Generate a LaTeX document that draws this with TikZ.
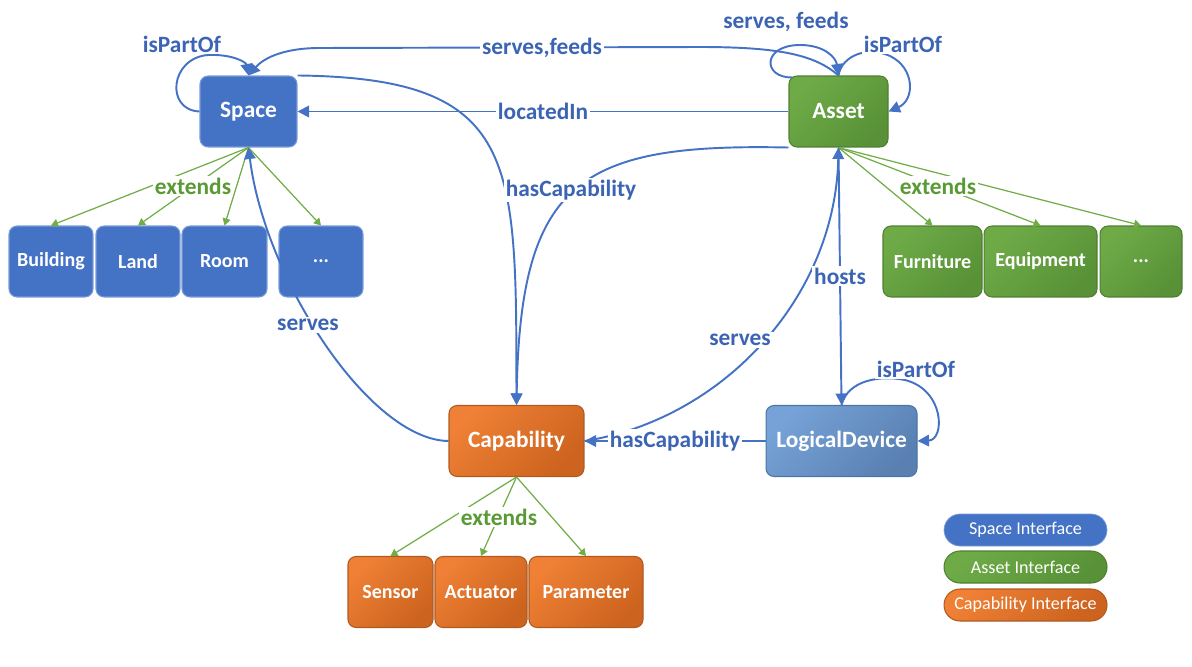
\documentclass[tikz,border=0pt]{standalone}
\usepackage{fontspec}
\setmainfont{Carlito}
\usetikzlibrary{arrows.meta}
\definecolor{spblue}{HTML}{4472C4}
\definecolor{spline}{HTML}{7A9BD8}
\definecolor{asgreenA}{HTML}{6EAB47}
\definecolor{asgreenB}{HTML}{589137}
\definecolor{asline}{HTML}{507F32}
\definecolor{caporangeA}{HTML}{EF8035}
\definecolor{caporangeB}{HTML}{CC631E}
\definecolor{capline}{HTML}{B05A22}
\definecolor{ldblueA}{HTML}{76A2D7}
\definecolor{ldblueB}{HTML}{5A80B2}
\definecolor{ldline}{HTML}{4A76A6}
\definecolor{relblue}{HTML}{4472C4}
\definecolor{lblblue}{HTML}{3C64B4}
\definecolor{extgreen}{HTML}{70AD47}
\definecolor{lblgreen}{HTML}{5A9A35}

\begin{document}
\begin{tikzpicture}
[x=0.02cm,y=-0.02cm,%
  box/.style={shape=rectangle,rounded corners=0.16cm,inner sep=0pt,minimum height=1.42cm,text=white,font=\bfseries\fontsize{13.3}{15}\selectfont},%
  sub/.style={box,font=\bfseries\fontsize{11.4}{13}\selectfont},%
  spacebox/.style={fill=spblue,draw=spline,line width=0.6pt},%
  assetbox/.style={top color=asgreenA,bottom color=asgreenB,shading angle=45,draw=asline,line width=0.6pt},%
  capbox/.style={top color=caporangeA,bottom color=caporangeB,shading angle=45,draw=capline,line width=0.6pt},%
  devbox/.style={top color=ldblueA,bottom color=ldblueB,shading angle=45,draw=ldline,line width=0.6pt},%
  rel/.style={draw=relblue,line width=1.1pt,-{Triangle[length=2.3mm,width=2.3mm]}},%
  ext/.style={draw=extgreen,line width=0.7pt,-{Triangle[length=1.4mm,width=1.6mm]}},%
  lbl/.style={fill=white,inner sep=1pt,text=lblblue,font=\bfseries\fontsize{13.3}{15}\selectfont},%
  extlbl/.style={lbl,text=lblgreen},%
  key/.style={rounded corners=0.32cm,minimum width=3.26cm,minimum height=0.64cm,inner sep=0pt,text=white,font=\fontsize{10.3}{12}\selectfont}]
\useasboundingbox (0,0) rectangle (1192,666);
\node[box,spacebox,minimum width=1.94cm] (sp) at (248.5,111.5) {Space};
\node[box,assetbox,minimum width=1.98cm] (as) at (838.5,111.5) {Asset};
\node[box,capbox,minimum width=2.70cm] (cap) at (516.5,441) {Capability};
\node[box,devbox,minimum width=3.02cm] (ld) at (841.5,441) {LogicalDevice};
\node[sub,spacebox,minimum width=1.68cm] (bld) at (51,261.5) {Building};
\node[sub,spacebox,minimum width=1.68cm] (land) at (138,261.5) {Land};
\node[sub,spacebox,minimum width=1.70cm] (room) at (224.5,261.5) {Room};
\node[sub,spacebox,minimum width=1.68cm] (spmore) at (321,261.5) {...};
\node[sub,assetbox,minimum width=1.98cm] (furn) at (932.5,261.5) {Furniture};
\node[sub,assetbox,minimum width=2.26cm] (equip) at (1040.5,261.5) {Equipment};
\node[sub,assetbox,minimum width=1.64cm] (asmore) at (1141,261.5) {...};
\node[sub,capbox,minimum width=1.70cm] (sens) at (390.5,592) {Sensor};
\node[sub,capbox,minimum width=1.84cm] (act) at (481,592) {Actuator};
\node[sub,capbox,minimum width=2.28cm] (par) at (586,592) {Parameter};
\node[key,fill=spblue,draw=spline] (keysp) at (1025.5,530) {Space Interface};
\node[key,assetbox] (keyas) at (1025.5,567) {Asset Interface};
\node[key,capbox] (keycap) at (1025.5,605) {Capability Interface};
\draw[ext] (sp.south) -- (bld.north);
\draw[ext] (sp.south) -- (land.north);
\draw[ext] (sp.south) -- (room.north);
\draw[ext] (sp.south) -- (spmore.north);
\draw[ext] (as.south) -- (furn.north);
\draw[ext] (as.south) -- (equip.north);
\draw[ext] (as.south) -- (asmore.north);
\draw[ext] (cap.south) -- (sens.north);
\draw[ext] (cap.south) -- (act.north);
\draw[ext] (cap.south) -- (par.north);
\node[extlbl] (lspext) at (193,186) {extends};
\node[extlbl] (lasext) at (938,186) {extends};
\node[extlbl] (lcapext) at (499,517) {extends};
\draw[rel] (sp.west) .. controls (165,110) and (170,58) .. (208,55) .. controls (232,54) and (246,62) .. (sp.north);
\draw[rel] (as.north) .. controls (815,55) and (780,47) .. (700,47) -- (320,48) .. controls (280,48) and (262,60) .. (sp.north);
\draw[rel] ([shift={(4,2)}]as.north west) .. controls (762,78) and (762,45) .. (800,45) .. controls (825,45) and (836,58) .. (as.north);
\draw[rel] (as.north) .. controls (842,55) and (868,46) .. (890,56) .. controls (915,68) and (915,100) .. (as.east);
\draw[rel] (as.west) -- node[lbl] (lloc) {locatedIn} (sp.east);
\draw[rel] (sp.north east) .. controls (520,78) and (516,160) .. (cap.north);
\draw[rel] (as.south west) .. controls (580,143) and (520,180) .. (cap.north);
\draw[rel] (cap.west) .. controls (370,440) and (265,280) .. (sp.south);
\draw[rel] (cap.east) .. controls (720,420) and (835,300) .. (as.south);
\draw[rel] (as.south) -- node[lbl] (lhosts) {hosts} (ld.north);
\draw[rel] (ld.north) .. controls (848,380) and (880,375) .. (905,380) .. controls (945,390) and (945,440) .. (ld.east);
\draw[rel] (ld.west) -- node[lbl] (lldcap) {hasCapability} (cap.east);
\node[lbl] (lsppart) at (182,44) {isPartOf};
\node[lbl] (lfeeds) at (542,48) {serves,feeds};
\node[lbl] (lasfeeds) at (786,22) {serves, feeds};
\node[lbl] (laspart) at (903,44) {isPartOf};
\node[lbl] (lascap) at (571,190) {hasCapability};
\node[lbl] (lspserves) at (308,325) {serves};
\node[lbl] (lasserves) at (740,340) {serves};
\node[lbl] (lldpart) at (916,369) {isPartOf};
\end{tikzpicture}
\end{document}
